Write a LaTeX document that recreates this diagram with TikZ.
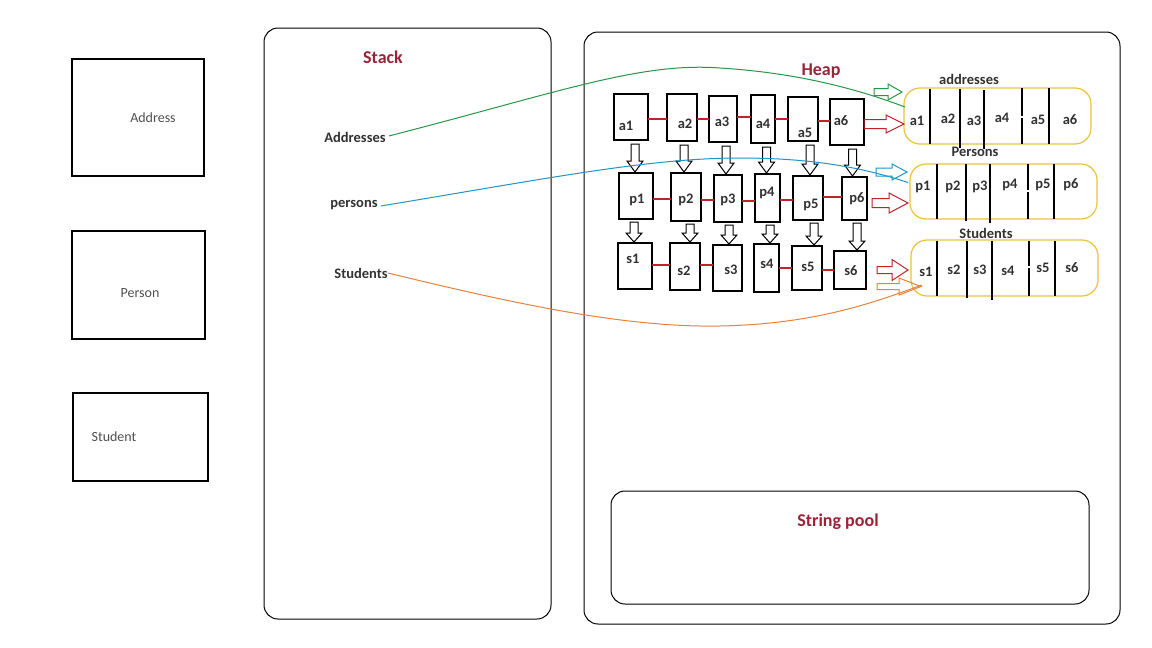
\documentclass[tikz,border=0pt]{standalone}
\usepackage{fontspec}
\setmainfont{Carlito}
\usetikzlibrary{calc}
\definecolor{titlered}{RGB}{155,35,55}
\definecolor{lblgray}{RGB}{50,50,50}
\definecolor{clsgray}{RGB}{80,80,80}
\definecolor{lgreen}{RGB}{40,150,70}
\definecolor{lblue}{RGB}{30,150,200}
\definecolor{lorange}{RGB}{230,130,60}
\definecolor{lred}{RGB}{190,35,40}
\definecolor{ayellow}{RGB}{235,195,60}
\begin{document}
\begin{tikzpicture}[x=1pt,y=-1pt,
  box/.style={draw=black, line width=1.2pt, inner sep=0pt, outer sep=0pt},
  container/.style={draw=black, line width=1pt, rounded corners=14pt, inner sep=0pt, outer sep=0pt},
  title/.style={font=\fontsize{18}{20}\selectfont\bfseries, text=titlered, inner sep=0pt},
  lbl/.style={font=\fontsize{14.5}{16}\selectfont\bfseries, text=lblgray, inner sep=0pt},
  cls/.style={font=\fontsize{14}{16}\selectfont, text=clsgray, inner sep=0pt},
  arr/.style={draw=ayellow, line width=1.2pt, rounded corners=16pt, inner sep=0pt, outer sep=0pt},
  divider/.style={line width=1.2pt},
  alink/.style={draw=lred, line width=1.1pt},
  plink/.style={draw=lred, line width=2.8pt},
  blk/.style n args={3}{to path={($(\tikztostart)!#1!90:(\tikztotarget)$) -- ($(\tikztotarget)!#3!(\tikztostart)!#1!-90:(\tikztostart)$) -- ($(\tikztotarget)!#3!(\tikztostart)!#2!-90:(\tikztostart)$) -- (\tikztotarget) -- ($(\tikztotarget)!#3!(\tikztostart)!#2!90:(\tikztostart)$) -- ($(\tikztotarget)!#3!(\tikztostart)!#1!90:(\tikztostart)$) -- ($(\tikztostart)!#1!-90:(\tikztotarget)$) -- cycle}},
]
\useasboundingbox[fill=white] (0,0) rectangle (1152,648);

% class boxes
\node[box, minimum width=132pt, minimum height=117pt] (addrC) at (138,117.5) {};
\node[cls] (addrCt) at (153,118) {Address};
\node[box, minimum width=133pt, minimum height=108pt] (persC) at (138.5,285) {};
\node[cls] (persCt) at (140,293) {Person};
\node[box, minimum width=135pt, minimum height=88pt] (studC) at (140.5,437) {};
\node[cls] (studCt) at (114,437) {Student};

% containers
\node[container, minimum width=287pt, minimum height=591pt] (stack) at (407.5,323.5) {};
\node[title] (stackT) at (383,57) {Stack};
\node[container, minimum width=536pt, minimum height=592pt] (heap) at (852,328) {};
\node[title] (heapT) at (821,71) {Heap};
\node[container, minimum width=478pt, minimum height=113pt] (pool) at (850,547.5) {};
\node[title] (poolT) at (838,522) {String pool};

% stack variables
\node[lbl] (addrS) at (355,137) {Addresses};
\node[lbl] (persS) at (354,205) {persons};
\node[lbl] (studS) at (361,273) {Students};

% address objects
\node[box, minimum width=34pt, minimum height=46pt] (a1) at (631,117) {};
\node[box, minimum width=30pt, minimum height=47pt] (a2) at (682,117.5) {};
\node[box, minimum width=28pt, minimum height=46pt] (a3) at (723,119) {};
\node[box, minimum width=24pt, minimum height=48pt] (a4) at (763,119) {};
\node[box, minimum width=30pt, minimum height=44pt] (a5) at (803,119) {};
\node[box, minimum width=34pt, minimum height=46pt] (a6) at (847,122) {};
\node[lbl] (a1t) at (626,126) {a1};
\node[lbl] (a2t) at (685,124) {a2};
\node[lbl] (a3t) at (722,122) {a3};
\node[lbl] (a4t) at (763,124) {a4};
\node[lbl] (a5t) at (805,133) {a5};
\node[lbl] (a6t) at (841,121) {a6};
\draw[alink] (a1.east |- 0,119) -- (a2.west |- 0,119);
\draw[alink] (a2.east |- 0,119) -- (a3.west |- 0,119);
\draw[alink] (a3.east |- 0,117) -- (a4.west |- 0,117);
\draw[alink] (a4.east |- 0,119) -- (a5.west |- 0,119);
\draw[alink] (a5.east |- 0,121) -- (a6.west |- 0,121);

% person objects
\node[box, minimum width=34pt, minimum height=46pt] (p1) at (636,196) {};
\node[box, minimum width=30pt, minimum height=48pt] (p2) at (686,197) {};
\node[box, minimum width=28pt, minimum height=47pt] (p3) at (728,198.5) {};
\node[box, minimum width=25pt, minimum height=48pt] (p4) at (767.5,198) {};
\node[box, minimum width=30pt, minimum height=44pt] (p5) at (808,198) {};
\node[box, minimum width=25pt, minimum height=43pt] (p6) at (854.5,198.5) {};
\node[lbl] (p1t) at (637,200) {p1};
\node[lbl] (p2t) at (686,200) {p2};
\node[lbl] (p3t) at (728,200) {p3};
\node[lbl] (p4t) at (767,193) {p4};
\node[lbl] (p5t) at (811,205) {p5};
\node[lbl] (p6t) at (857,199) {p6};
\draw[plink] (p1.east |- 0,199) -- (p2.west |- 0,199);
\draw[plink] (p2.east |- 0,200) -- (p3.west |- 0,200);
\draw[plink] (p3.east |- 0,201) -- (p4.west |- 0,201);
\draw[plink] (p4.east |- 0,200) -- (p5.west |- 0,200);
\draw[plink] (p5.east |- 0,197) -- (p6.west |- 0,197);

% student objects
\node[box, minimum width=34pt, minimum height=46pt] (s1) at (635,266) {};
\node[box, minimum width=30pt, minimum height=47pt] (s2) at (685,266.5) {};
\node[box, minimum width=29pt, minimum height=46pt] (s3) at (727.5,268) {};
\node[box, minimum width=25pt, minimum height=48pt] (s4) at (766.5,268) {};
\node[box, minimum width=30pt, minimum height=44pt] (s5) at (807,268) {};
\node[box, minimum width=32pt, minimum height=38pt] (s6) at (850,270) {};
\node[lbl] (s1t) at (633,259) {s1};
\node[lbl] (s2t) at (684,271) {s2};
\node[lbl] (s3t) at (731,270) {s3};
\node[lbl] (s4t) at (767,264) {s4};
\node[lbl] (s5t) at (808,267) {s5};
\node[lbl] (s6t) at (851,271) {s6};
\draw[plink] (s1.east |- 0,265) -- (s2.west |- 0,265);
\draw[plink] (s2.east |- 0,265) -- (s3.west |- 0,265);
\draw[plink] (s4.east |- 0,268) -- (s5.west |- 0,268);
\draw[plink] (s5.east |- 0,270) -- (s6.west |- 0,270);

% down block arrows
\foreach \i/\dx in {1/-1,2/-2,3/-2,4/-1,5/2,6/-2} {
  \coordinate (ds\i) at ($(a\i.south -| p\i.north)+(\dx,4)$);
  \coordinate (de\i) at ($(p\i.north)+(\dx,-1)$);
  \draw[blk={4pt}{8pt}{11pt}, line width=1pt] (ds\i) to (de\i);
}
\foreach \i/\dx in {1/-1,2/5,3/1.5,4/3.5,5/7,6/7} {
  \coordinate (es\i) at ($(p\i.south -| s\i.north)+(\dx,3)$);
  \coordinate (ee\i) at ($(s\i.north)+(\dx,-1)$);
  \draw[blk={4pt}{8pt}{9pt}, line width=1pt] (es\i) to (ee\i);
}

% arrays
\node[arr, minimum width=187pt, minimum height=56pt] (arrA) at (997.5,116) {};
\node[arr, minimum width=187pt, minimum height=55pt] (arrP) at (1003.5,191.5) {};
\node[arr, minimum width=187pt, minimum height=56pt] (arrS) at (1004.5,268) {};
\node[lbl] (arrAt) at (969,79) {addresses};
\node[lbl] (arrPt) at (975,152) {Persons};
\node[lbl] (arrSt) at (986,233) {Students};

\draw[divider] (930,89) -- (930,144);
\draw[divider] (960,89) -- (960,148);
\draw[divider] (984,90) -- (984,149);
\draw[divider] (1022,88) -- (1022,116) (1022,118) -- (1022,144);
\draw[divider] (1049,88) -- (1049,144);
\node[lbl] at (917,121) {a1};
\node[lbl] at (948,119) {a2};
\node[lbl] at (974,121) {a3};
\node[lbl] at (1002,118) {a4};
\node[lbl] at (1038,120) {a5};
\node[lbl] at (1070,120) {a6};

\draw[divider] (937,164) -- (937,219);
\draw[divider] (966,164) -- (966,221);
\draw[divider] (990,164) -- (990,223);
\draw[divider] (1028,164) -- (1028,190) (1028,192) -- (1028,219);
\draw[divider] (1054,164) -- (1054,219);
\node[lbl] at (923,187) {p1};
\node[lbl] at (953,187) {p2};
\node[lbl] at (980,187) {p3};
\node[lbl] at (1010,185) {p4};
\node[lbl] at (1043,185) {p5};
\node[lbl] at (1071,185) {p6};

\draw[divider] (937,241) -- (937,296);
\draw[divider] (967,241) -- (967,298);
\draw[divider] (992,241) -- (992,300);
\draw[divider] (1029,241) -- (1029,266) (1029,268) -- (1029,296);
\draw[divider] (1055,241) -- (1055,296);
\node[lbl] at (926,272) {s1};
\node[lbl] at (954,270) {s2};
\node[lbl] at (980,270) {s3};
\node[lbl] at (1008,271) {s4};
\node[lbl] at (1043,268) {s5};
\node[lbl] at (1072,268) {s6};

% reference curves
\draw[lgreen, line width=1pt] ($(addrS.east)+(3,-1)$) .. controls (560,92) and (640,62) .. (720,68) .. controls (800,73) and (860,90) .. ($(arrA.west)+(1,-9)$);
\draw[lblue, line width=1pt] ($(persS.east)+(3,1)$) .. controls (550,178) and (650,158) .. (740,158) .. controls (820,158) and (870,170) .. ($(arrP.west)+(-2,-9)$);
\draw[lorange, line width=1pt] ($(studS.east)+(0,0)$) .. controls (500,300) and (620,328) .. (720,326) .. controls (820,324) and (880,300) .. (922,285);

% horizontal block arrows
\coordinate (gs) at (874,92);
\coordinate (ge) at (902,92);
\draw[blk={3.5pt}{8pt}{14pt}, draw=lgreen, line width=1pt] (gs) to (ge);
\coordinate (bs) at (876,172);
\coordinate (be) at (907,172);
\draw[blk={4pt}{8pt}{15pt}, draw=lblue, line width=1pt] (bs) to (be);
\coordinate (os) at (877,286.5);
\coordinate (oe) at (921,286.5);
\draw[blk={3pt}{8.5pt}{22pt}, draw=lorange, line width=1pt] (os) to (oe);
\coordinate (rAs) at (a6.east |- 0,124);
\coordinate (rAe) at (arrA.west |- 0,124);
\draw[blk={4.5pt}{9pt}{18pt}, draw=lred, line width=1pt] (rAs) to (rAe);
\coordinate (rPs) at ($(p6.east |- 0,203)+(5,0)$);
\coordinate (rPe) at (908,203);
\draw[blk={4.5pt}{10pt}{19pt}, draw=lred, line width=1pt] (rPs) to (rPe);
\coordinate (rSs) at ($(s6.east |- 0,270)+(11,0)$);
\coordinate (rSe) at (908,270);
\draw[blk={3.5pt}{10.5pt}{16pt}, draw=lred, line width=1pt] (rSs) to (rSe);
\end{tikzpicture}
\end{document}
